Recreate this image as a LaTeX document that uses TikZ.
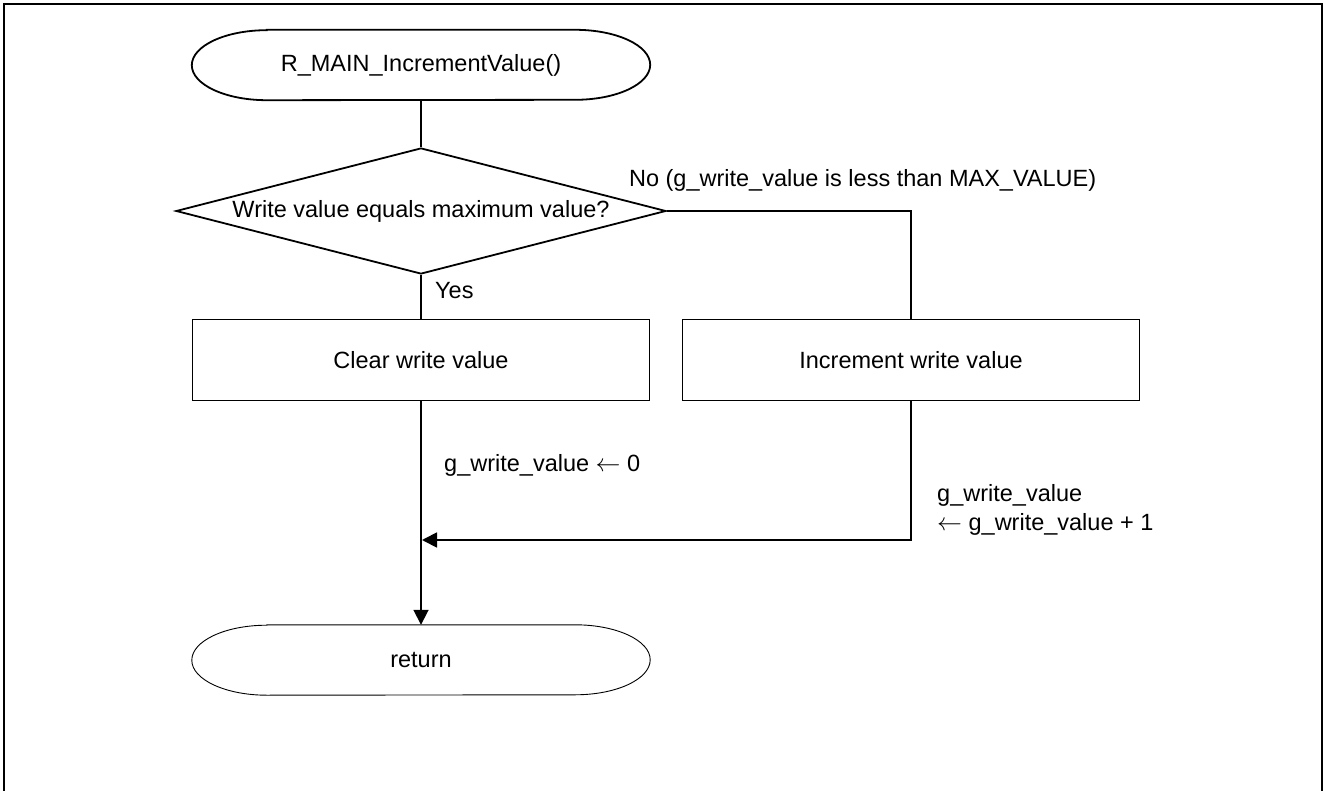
\documentclass[tikz,border=0pt]{standalone}
\usepackage{fontspec}
\setmainfont{Liberation Sans}
\usepackage{tikz}
\usetikzlibrary{positioning, arrows.meta, shapes.geometric}

\begin{document}
\begin{tikzpicture}[
    x=1pt, y=-1pt,
    every node/.style={font=\fontsize{23.5}{29}\selectfont, inner sep=0pt},
    terminal/.style={rectangle, minimum width=458pt, minimum height=70pt},
    process/.style={rectangle, draw, line width=1.8pt, minimum width=457pt, minimum height=81pt},
    decision/.style={diamond, draw, line width=1.8pt, minimum width=490pt, minimum height=126pt},
    flow/.style={draw, line width=1.8pt},
    tip/.style={-{Triangle[length=15pt, width=15pt]}}
]
\useasboundingbox (0,0) rectangle (1325,791);
% frame
\draw[line width=2pt] (4,791) -- (4,4) -- (1322,4) -- (1322,791);

% nodes
\node[terminal] (start) at (421,65) {R\_MAIN\_IncrementValue()};
\node[decision] (dec) at (421,211) {\makebox[0pt]{\raisebox{-3pt}{Write value equals maximum value?}}};
\node[process] (clr) at (421,360) {Clear write value};
\node[process] (inc) at (911,360) {Increment write value};
\node[terminal] (ret) at (421,660) {return};
\coordinate (merge) at (422,540);

% terminal outlines
\foreach \n/\w in {start/1.8pt, ret/0.9pt}
  \draw[line width=\w] ([xshift=75pt]\n.north west) -- ([xshift=-75pt]\n.north east)
    arc[start angle=90, end angle=-90, x radius=75pt, y radius=35pt]
    -- ([xshift=75pt]\n.south west)
    arc[start angle=-90, end angle=-270, x radius=75pt, y radius=35pt] -- cycle;

% labels
\node[anchor=base west] (no) at ([xshift=-38pt, yshift=24pt]dec.east) {No (g\_write\_value is less than MAX\_VALUE)};
\node[anchor=base west] (yes) at ([xshift=14pt, yshift=-24pt]dec.south) {Yes};
\node[anchor=base west] (set0) at ([xshift=23pt, yshift=-70pt]clr.south) {g\_write\_value $\leftarrow$ 0};
\node[anchor=base west, align=left] (add1) at ([xshift=26pt, yshift=-129pt]inc.south) {g\_write\_value\\$\leftarrow$ g\_write\_value + 1};

% connectors
\draw[flow] (start) -- (dec);
\draw[flow] (dec) -- (clr);
\draw[flow] (dec.east) -| (inc.north);
\draw[flow, tip] (clr) -- (ret);
\draw[flow, tip] (inc) |- (merge);
\end{tikzpicture}
\end{document}
